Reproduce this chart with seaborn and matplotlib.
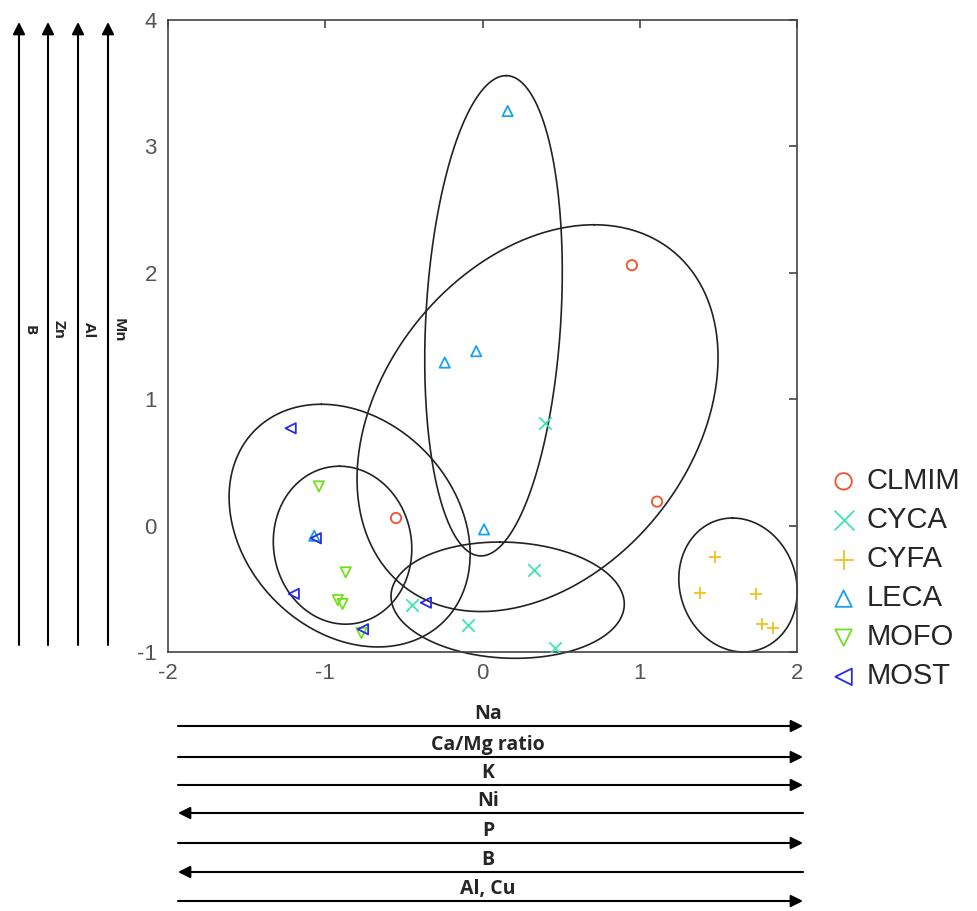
import numpy as np
import pandas as pd
import matplotlib
matplotlib.use("Agg")
import matplotlib.pyplot as plt
import seaborn as sns

# site scores
groups = ["CLMIM", "CYCA", "CYFA", "LECA", "MOFO", "MOST"]
clmim_x = [0.95, -0.55, 1.11]
clmim_y = [2.06, 0.06, 0.19]
cyca_x = [0.40, 0.33, -0.45, -0.09, 0.46]
cyca_y = [0.81, -0.35, -0.63, -0.79, -0.97]
cyfa_x = [1.48, 1.38, 1.74, 1.78, 1.85]
cyfa_y = [-0.25, -0.53, -0.54, -0.78, -0.81]
leca_x = [0.16, -0.24, -0.04, 0.01, -1.07]
leca_y = [3.28, 1.29, 1.38, -0.03, -0.08]
mofo_x = [-1.04, -0.87, -0.92, -0.89, -0.77]
mofo_y = [0.31, -0.37, -0.59, -0.62, -0.85]
most_x = [-1.22, -1.06, -1.20, -0.36, -0.76]
most_y = [0.77, -0.10, -0.54, -0.61, -0.82]

# group ellipses: centre, top point offset (u) and half width at centre (v)
ell_cx = [0.07, 0.35, -0.845, -0.89, 0.16, 1.625]
ell_cy = [1.66, 0.85, 0.0, -0.155, -0.59, -0.47]
ell_ux = [0.08, 0.36, -0.18, -0.02, -0.05, -0.035]
ell_uy = [1.90, 1.53, 0.96, 0.625, 0.46, 0.53]
ell_vx = [0.43, 1.09, 0.745, 0.44, 0.74, 0.375]

# environmental vectors
x_vectors = ["Na", "Ca/Mg ratio", "K", "Ni", "P", "B", "Al, Cu"]
x_vector_dir = [1, 1, 1, -1, 1, -1, 1]
y_vectors = ["B", "Zn", "Al", "Mn"]

df = pd.DataFrame({
    "x": clmim_x + cyca_x + cyfa_x + leca_x + mofo_x + most_x,
    "y": clmim_y + cyca_y + cyfa_y + leca_y + mofo_y + most_y,
    "group": ["CLMIM"] * 3 + ["CYCA"] * 5 + ["CYFA"] * 5 + ["LECA"] * 5 + ["MOFO"] * 5 + ["MOST"] * 5,
})

markers = {"CLMIM": "o", "CYCA": "x", "CYFA": "+", "LECA": "^", "MOFO": "v", "MOST": "<"}
colors = {"CLMIM": "#f4502a", "CYCA": "#3ee6b4", "CYFA": "#f0c21e",
          "LECA": "#1aa0f0", "MOFO": "#74e01c", "MOST": "#2a2ae6"}

sns.set_style("white")
plt.rcParams["font.family"] = ["Liberation Sans", "DejaVu Sans"]
plt.rcParams["axes.unicode_minus"] = False

W, H = 977, 911
fig = plt.figure(figsize=(W / 100, H / 100), dpi=100)
ax = fig.add_axes([168 / W, 1 - 652 / H, (797 - 168) / W, (652 - 20) / H])

for g in groups:
    sub = df[df["group"] == g]
    if markers[g] in ("x", "+"):
        sns.scatterplot(data=sub, x="x", y="y", marker=markers[g], color=colors[g],
                        s=80, linewidth=1.3, label=g, ax=ax, zorder=3)
    else:
        sns.scatterplot(data=sub, x="x", y="y", marker=markers[g], facecolor="none",
                        edgecolor=colors[g], s=55, linewidth=1.3, label=g, ax=ax, zorder=3)

t = np.linspace(0, 2 * np.pi, 300)
for cx, cy, ux, uy, vx in zip(ell_cx, ell_cy, ell_ux, ell_uy, ell_vx):
    ax.plot(cx + ux * np.cos(t) + vx * np.sin(t), cy + uy * np.cos(t),
            color="#222222", lw=1.2, clip_on=False, zorder=2)

ax.set_xlim(-2, 2)
ax.set_ylim(-1, 4)
ax.set_xticks([-2, -1, 0, 1, 2])
ax.set_yticks([-1, 0, 1, 2, 3, 4])
ax.set_xlabel("")
ax.set_ylabel("")
ax.tick_params(direction="in", length=6, width=1.2, top=True, right=True,
               labelsize=16, labelcolor="#555555", color="#444444", pad=8)
for s in ax.spines.values():
    s.set_color("#444444")
    s.set_linewidth(1.2)

ax.legend(loc="upper left", bbox_to_anchor=(829 / W, 1 - 467 / H),
          bbox_transform=fig.transFigure, frameon=False, fontsize=21,
          markerscale=1.6, handlelength=1.0, handletextpad=0.3,
          labelspacing=0.38, borderaxespad=0, borderpad=0)


def fig_xy(px, py):
    return (px / W, 1 - py / H)


arrow_kw = dict(arrowstyle="-|>", color="black", lw=1.5, mutation_scale=18,
                shrinkA=0, shrinkB=0)

# horizontal vectors below the plot
line_y = [726, 757, 785, 813, 843, 872, 901]
for name, d, ly in zip(x_vectors, x_vector_dir, line_y):
    start, end = (178, ly), (803, ly)
    if d < 0:
        start, end = end, start
    ax.annotate("", xy=fig_xy(*end), xytext=fig_xy(*start), xycoords="figure fraction",
                textcoords="figure fraction", arrowprops=arrow_kw, annotation_clip=False)
    fig.text(*fig_xy(488, ly - 2), name, ha="center", va="bottom",
             fontsize=14, fontweight="bold", family=["Open Sans", "DejaVu Sans"])

# vertical vectors on the left
line_x = [19, 48, 78, 108]
for name, lx in zip(y_vectors, line_x):
    ax.annotate("", xy=fig_xy(lx, 22), xytext=fig_xy(lx, 645), xycoords="figure fraction",
                textcoords="figure fraction", arrowprops=arrow_kw, annotation_clip=False)
    fig.text(*fig_xy(lx + 4, 330), name, ha="left", va="center", rotation=-90,
             fontsize=11, fontweight="bold", family=["Open Sans", "DejaVu Sans"])

fig.savefig("out.png", dpi=100)
